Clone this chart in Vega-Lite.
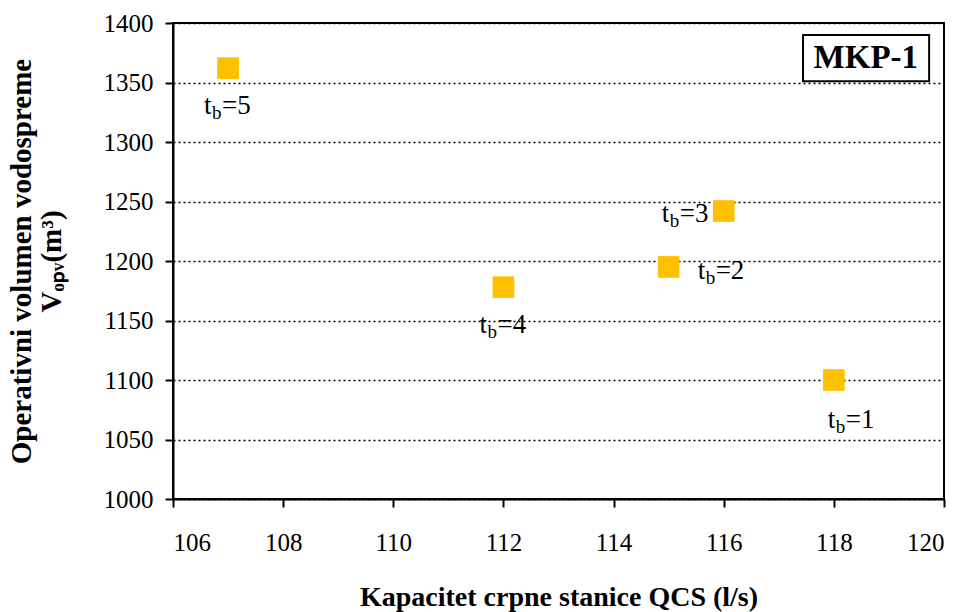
{
  "$schema": "https://vega.github.io/schema/vega-lite/v6.json",
  "width": 771,
  "height": 476,
  "autosize": {"type": "none"},
  "padding": {"left": 173, "top": 23, "right": 23, "bottom": 113},
  "background": "white",
  "config": {
    "view": {"stroke": "black", "strokeWidth": 2},
    "font": "Times New Roman, Liberation Serif, serif",
    "text": {"font": "Times New Roman, Liberation Serif, serif"},
    "axis": {
      "labelFont": "Times New Roman, Liberation Serif, serif",
      "labelFontSize": 25,
      "labelColor": "black",
      "titleFont": "Times New Roman, Liberation Serif, serif",
      "titleFontSize": 28,
      "titleFontWeight": "bold",
      "titleColor": "black",
      "domainColor": "black",
      "domainWidth": 2,
      "tickColor": "black",
      "tickWidth": 2,
      "tickSize": 8
    }
  },
  "data": {
    "values": [
      {"q": 118, "v": 1100, "n": "=1", "pos": "br"},
      {"q": 115, "v": 1195, "n": "=2", "pos": "right"},
      {"q": 116, "v": 1242, "n": "=3", "pos": "left"},
      {"q": 112, "v": 1178, "n": "=4", "pos": "below"},
      {"q": 107, "v": 1362, "n": "=5", "pos": "below"}
    ]
  },
  "layer": [
    {
      "mark": {"type": "square", "size": 470, "color": "#FFC000", "opacity": 1},
      "encoding": {
        "x": {
          "field": "q", "type": "quantitative",
          "scale": {"domain": [106, 120], "nice": false, "zero": false},
          "axis": {
            "values": [106, 108, 110, 112, 114, 116, 118, 120],
            "format": "d",
            "grid": false,
            "labelPadding": 23,
            "title": "Kapacitet crpne stanice QCS (l/s)",
            "titlePadding": 28
          }
        },
        "y": {
          "field": "v", "type": "quantitative",
          "scale": {"domain": [1000, 1400], "nice": false, "zero": false},
          "axis": {
            "values": [1000, 1050, 1100, 1150, 1200, 1250, 1300, 1350, 1400],
            "format": "d",
            "grid": true,
            "gridColor": "black",
            "gridDash": [2, 3],
            "gridWidth": 1.5,
            "labelPadding": 12,
            "title": ["Operativni volumen vodospreme", "Vₒₚᵥ(m³)"],
            "titleFontSize": 29,
            "titleLineHeight": 30,
            "titlePadding": 37
          }
        }
      }
    },
    {
      "data": {"values": [{"label": "MKP-1"}]},
      "mark": {"type": "rect", "fill": "white", "stroke": "black", "strokeWidth": 2},
      "encoding": {
        "x": {"datum": 117.44, "type": "quantitative"},
        "x2": {"datum": 119.73},
        "y": {"datum": 1390, "type": "quantitative"},
        "y2": {"datum": 1351}
      }
    },
    {
      "data": {"values": [{"label": "MKP-1"}]},
      "mark": {"type": "text", "fontSize": 33, "fontWeight": "bold", "align": "center", "baseline": "middle", "color": "black"},
      "encoding": {
        "x": {"datum": 118.58, "type": "quantitative"},
        "y": {"datum": 1371, "type": "quantitative"},
        "text": {"field": "label", "type": "nominal"}
      }
    },
    {
      "encoding": {
        "x": {"field": "q", "type": "quantitative"},
        "y": {"field": "v", "type": "quantitative"}
      },
      "layer": [
        {"transform": [{"filter": "datum.pos == 'below'"}], "mark": {"type": "text", "text": "t", "align": "left", "baseline": "middle", "fontSize": 27, "dx": -24, "dy": 38, "color": "black"}},
        {"transform": [{"filter": "datum.pos == 'below'"}], "mark": {"type": "text", "text": "b", "align": "left", "baseline": "middle", "fontSize": 19, "dx": -16, "dy": 45, "color": "black"}},
        {"transform": [{"filter": "datum.pos == 'below'"}], "mark": {"type": "text", "align": "left", "baseline": "middle", "fontSize": 27, "dx": -6, "dy": 38, "color": "black"}, "encoding": {"text": {"field": "n"}}},
        {"transform": [{"filter": "datum.pos == 'br'"}], "mark": {"type": "text", "text": "t", "align": "left", "baseline": "middle", "fontSize": 27, "dx": -6, "dy": 40, "color": "black"}},
        {"transform": [{"filter": "datum.pos == 'br'"}], "mark": {"type": "text", "text": "b", "align": "left", "baseline": "middle", "fontSize": 19, "dx": 2, "dy": 47, "color": "black"}},
        {"transform": [{"filter": "datum.pos == 'br'"}], "mark": {"type": "text", "align": "left", "baseline": "middle", "fontSize": 27, "dx": 12, "dy": 40, "color": "black"}, "encoding": {"text": {"field": "n"}}},
        {"transform": [{"filter": "datum.pos == 'left'"}], "mark": {"type": "text", "text": "t", "align": "left", "baseline": "middle", "fontSize": 27, "dx": -62, "dy": 3, "color": "black"}},
        {"transform": [{"filter": "datum.pos == 'left'"}], "mark": {"type": "text", "text": "b", "align": "left", "baseline": "middle", "fontSize": 19, "dx": -54, "dy": 10, "color": "black"}},
        {"transform": [{"filter": "datum.pos == 'left'"}], "mark": {"type": "text", "align": "left", "baseline": "middle", "fontSize": 27, "dx": -44, "dy": 3, "color": "black"}, "encoding": {"text": {"field": "n"}}},
        {"transform": [{"filter": "datum.pos == 'right'"}], "mark": {"type": "text", "text": "t", "align": "left", "baseline": "middle", "fontSize": 27, "dx": 29, "dy": 4, "color": "black"}},
        {"transform": [{"filter": "datum.pos == 'right'"}], "mark": {"type": "text", "text": "b", "align": "left", "baseline": "middle", "fontSize": 19, "dx": 37, "dy": 11, "color": "black"}},
        {"transform": [{"filter": "datum.pos == 'right'"}], "mark": {"type": "text", "align": "left", "baseline": "middle", "fontSize": 27, "dx": 47, "dy": 4, "color": "black"}, "encoding": {"text": {"field": "n"}}}
      ]
    }
  ]
}
